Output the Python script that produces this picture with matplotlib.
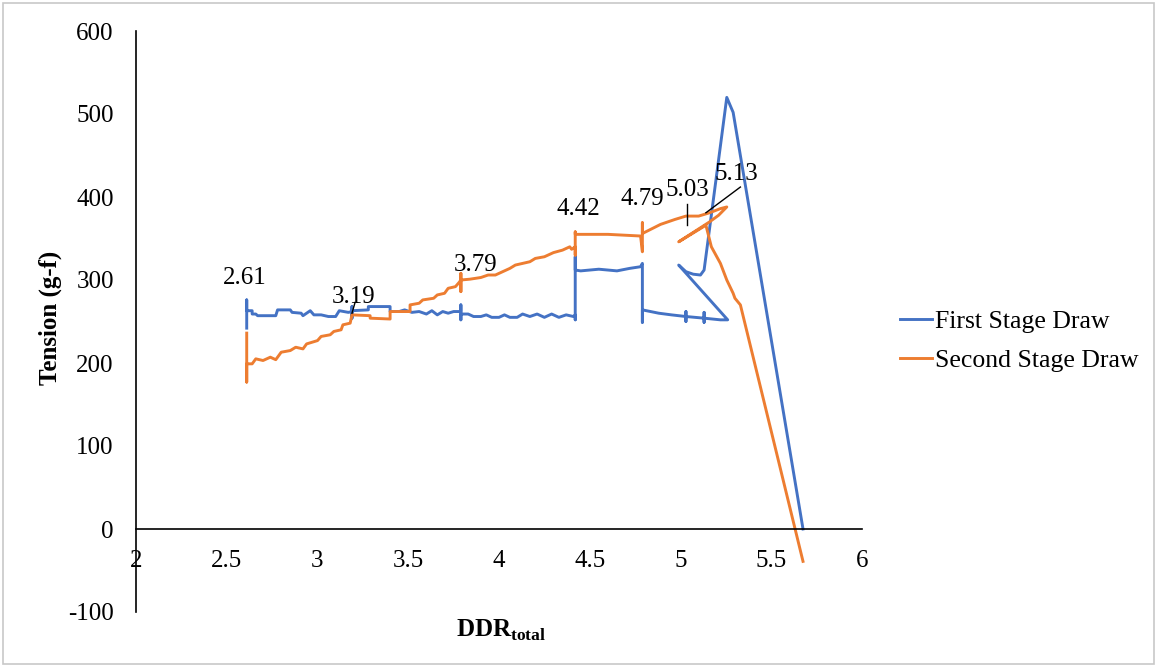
import numpy as np
import matplotlib.pyplot as plt
from matplotlib.patches import Rectangle

plt.rcParams['font.family'] = ['Liberation Serif', 'DejaVu Serif']
plt.rcParams['mathtext.fontset'] = 'custom'
plt.rcParams['mathtext.rm'] = 'Liberation Serif'
plt.rcParams['mathtext.bf'] = 'Liberation Serif:bold'
plt.rcParams['axes.unicode_minus'] = False

# first stage draw
first_ddr = [2.61, 2.61, 2.61, 2.64, 2.64, 2.66, 2.67, 2.77, 2.78, 2.85, 2.86, 2.91,
             2.92, 2.96, 2.98, 3.02, 3.06, 3.10, 3.12, 3.17, 3.19, 3.19, 3.19, 3.19,
             3.28, 3.28, 3.40, 3.40, 3.45, 3.48, 3.52, 3.56, 3.60, 3.63, 3.66, 3.69,
             3.72, 3.75, 3.79, 3.79, 3.79, 3.79, 3.83, 3.86, 3.90, 3.93, 3.96, 4.00,
             4.03, 4.06, 4.10, 4.13, 4.17, 4.21, 4.25, 4.29, 4.33, 4.37, 4.41, 4.42,
             4.42, 4.42, 4.42, 4.45, 4.55, 4.65, 4.72, 4.78, 4.79, 4.79, 4.79, 4.88,
             4.95, 5.03, 5.03, 5.03, 5.03, 5.13, 5.13, 5.13, 5.13, 5.22, 5.26, 4.99,
             5.03, 5.07, 5.11, 5.13, 5.15, 5.255, 5.29, 5.675]
first_tension = [242, 276, 263, 263, 259, 259, 257, 257, 264, 264, 261, 260,
                 257, 263, 258, 258, 256, 256, 263, 261, 262, 268, 254, 263,
                 264, 268, 268, 262, 262, 264, 261, 262, 259, 263, 258, 262,
                 260, 262, 262, 270, 252, 259, 259, 256, 256, 258, 255, 255,
                 258, 255, 255, 259, 256, 259, 255, 259, 255, 258, 256, 258,
                 252, 328, 312, 311, 313, 311, 314, 316, 320, 249, 264, 260,
                 258, 256, 262, 250, 256, 254, 261, 249, 254, 252, 252, 318,
                 310, 307, 306, 312, 345, 520, 502, 0]

# second stage draw
second_ddr = [2.61, 2.61, 2.61, 2.64, 2.66, 2.70, 2.74, 2.77, 2.80, 2.85, 2.88, 2.92,
              2.94, 3.00, 3.02, 3.07, 3.09, 3.13, 3.14, 3.18, 3.19, 3.29, 3.29, 3.40,
              3.40, 3.51, 3.51, 3.56, 3.58, 3.64, 3.66, 3.70, 3.72, 3.76, 3.78, 3.79,
              3.79, 3.79, 3.79, 3.84, 3.90, 3.94, 3.98, 4.02, 4.06, 4.09, 4.13, 4.17,
              4.20, 4.25, 4.30, 4.35, 4.39, 4.40, 4.42, 4.42, 4.42, 4.42, 4.60, 4.78,
              4.79, 4.79, 4.79, 4.89, 4.97, 5.03, 5.10, 5.16, 5.22, 5.255, 5.21, 5.16,
              4.99, 5.14, 5.17, 5.22, 5.255, 5.29, 5.30, 5.33, 5.675]
second_tension = [236, 177, 199, 199, 205, 203, 207, 204, 213, 215, 219, 217,
                  223, 227, 232, 234, 238, 240, 246, 248, 258, 257, 254, 253,
                  262, 262, 270, 272, 276, 278, 282, 284, 290, 292, 297, 300,
                  308, 286, 300, 301, 303, 306, 306, 310, 314, 318, 320, 322,
                  326, 328, 333, 336, 340, 337, 340, 330, 358, 355, 355, 353,
                  334, 369, 356, 367, 373, 377, 377, 381, 386, 388, 378, 370,
                  346, 366, 340, 320, 300, 284, 278, 270, -39]

# stage change labels
stage_labels = ['2.61', '3.19', '3.79', '4.42', '4.79', '5.03', '5.13']
label_xy = [(2.60, 302), (3.20, 280), (3.87, 318), (4.44, 385), (4.79, 398), (5.04, 408), (5.31, 428)]

blue = '#4472C4'
orange = '#ED7D31'

fig = plt.figure(figsize=(11.57, 6.67), dpi=100)
ax = fig.add_axes([136/1157, 1-612/667, 726/1157, 581/667])

ax.plot(first_ddr, first_tension, color=blue, lw=2.1, label='First Stage Draw', solid_joinstyle='round')
ax.plot(second_ddr, second_tension, color=orange, lw=2.1, label='Second Stage Draw', solid_joinstyle='round')

for txt, (x, y) in zip(stage_labels, label_xy):
    ax.text(x, y, txt, ha='center', va='center', fontsize=18)

# leader lines
ax.plot([3.207, 3.19], [273, 260], color='black', lw=1)
ax.plot([5.035, 5.035], [392, 366], color='black', lw=1)
ax.plot([5.33, 5.14], [412, 381], color='black', lw=1)

ax.set_xlim(2, 6)
ax.set_ylim(-100, 600)
ax.set_xticks(np.arange(2, 6.01, 0.5))
ax.set_xticklabels(['2', '2.5', '3', '3.5', '4', '4.5', '5', '5.5', '6'])
ax.set_yticks(np.arange(-100, 601, 100))
ax.spines['top'].set_visible(False)
ax.spines['right'].set_visible(False)
ax.spines['bottom'].set_position(('data', 0))
ax.spines['bottom'].set_linewidth(1.2)
ax.spines['left'].set_linewidth(1.2)
ax.tick_params(axis='both', length=0, labelsize=18)
ax.tick_params(axis='x', pad=15)
ax.tick_params(axis='y', pad=16)

fig.text(50/1157, 1-318/667, 'Tension (g-f)', rotation=90, ha='center', va='center',
         fontsize=18, fontweight='bold')
fig.text(501/1157, 1-630/667, r'$\mathbf{DDR}_{\mathbf{total}}$', ha='center', va='center',
         fontsize=18)

fig.legend(loc='center left', bbox_to_anchor=(900/1157, 1-341/667), frameon=False,
           fontsize=18.5, handlelength=1.25, handletextpad=0.12, labelspacing=0.65,
           borderpad=0, borderaxespad=0)

fig.patches.append(Rectangle((0.003, 0.004), 0.994, 0.992, transform=fig.transFigure,
                             fill=False, edgecolor='#c8c8c8', lw=1.2))

fig.savefig('out.png', dpi=100)
